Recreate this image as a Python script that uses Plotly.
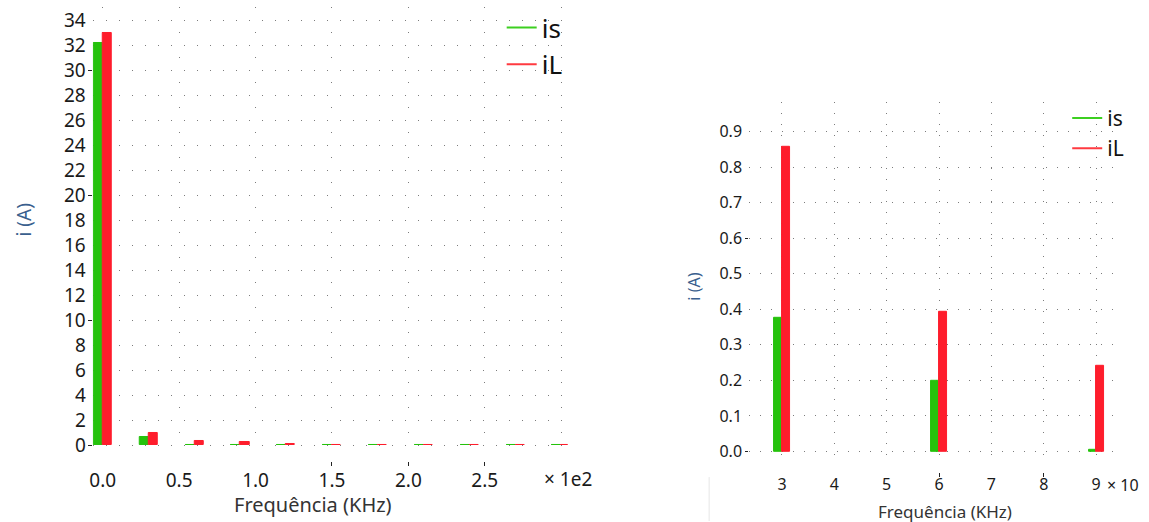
import plotly.graph_objects as go

# ---- spectrum data -------------------------------------------------------
# full spectrum (frequency axis in units of 1e2 KHz)
freq_full = [0.0, 0.3, 0.6, 0.9, 1.2, 1.5, 1.8, 2.1, 2.4, 2.7, 3.0]
is_full = [32.2, 0.62, 0.05, 0.05, 0.04, 0.04, 0.04, 0.04, 0.04, 0.04, 0.04]
il_full = [33.0, 0.95, 0.35, 0.24, 0.06, 0.05, 0.05, 0.05, 0.05, 0.05, 0.05]

# zoomed harmonics (frequency axis in units of 10 KHz)
freq_zoom = [3, 6, 9]
is_zoom = [0.376, 0.20, 0.005]
il_zoom = [0.856, 0.394, 0.242]

x_ticks_full = [0.0, 0.5, 1.0, 1.5, 2.0, 2.5, 3.0]
x_text_full = ["0.0", "0.5", "1.0", "1.5", "2.0", "2.5", ""]
y_ticks_full = list(range(0, 35, 2))
x_ticks_zoom = [3, 4, 5, 6, 7, 8, 9]
y_ticks_zoom = [round(0.1 * k, 1) for k in range(10)]
y_text_zoom = [f"{v:.1f}" for v in y_ticks_zoom]

GREEN = "#25c20c"
RED = "#fe1d2c"
LEG_GREEN = "#3ccf20"
LEG_RED = "#ff3a40"
GRID = "#7c7c7c"
FONT = "Noto Sans"

W, H = 1149, 522


def px(v):
    return v / W


def py(v):
    return 1 - v / H


fig = go.Figure()

# ---- bars -----------------------------------------------------------------
bw_full = 0.059
fig.add_trace(go.Bar(x=freq_full, y=is_full, width=bw_full, offset=-bw_full,
                     marker=dict(color=GREEN, line=dict(color=GREEN, width=1)),
                     showlegend=False, xaxis="x", yaxis="y"))
fig.add_trace(go.Bar(x=freq_full, y=il_full, width=bw_full, offset=0,
                     marker=dict(color=RED, line=dict(color=RED, width=1)),
                     showlegend=False, xaxis="x", yaxis="y"))

bw_zoom = 0.145
fig.add_trace(go.Bar(x=freq_zoom, y=is_zoom, width=bw_zoom, offset=-bw_zoom,
                     marker=dict(color=GREEN, line=dict(color=GREEN, width=1)),
                     showlegend=False, xaxis="x2", yaxis="y2"))
fig.add_trace(go.Bar(x=freq_zoom, y=il_zoom, width=bw_zoom, offset=0,
                     marker=dict(color=RED, line=dict(color=RED, width=1)),
                     showlegend=False, xaxis="x2", yaxis="y2"))

# ---- legend entries (line swatches) --------------------------------------
for name, col, leg, ax, ay, grp in [
    ("is", LEG_GREEN, "legend", "x", "y", "a"),
    ("iL", LEG_RED, "legend", "x", "y", "b"),
    ("is", LEG_GREEN, "legend2", "x2", "y2", "c"),
    ("iL", LEG_RED, "legend2", "x2", "y2", "d"),
]:
    fig.add_trace(go.Scatter(x=[None], y=[None], mode="lines", name=name,
                             line=dict(color=col, width=2), legend=leg,
                             legendgroup=grp, xaxis=ax, yaxis=ay))

# tick-mark-only axes need a trace to be drawn
fig.add_trace(go.Scatter(x=[None], y=[None], showlegend=False, xaxis="x3", yaxis="y3"))
fig.add_trace(go.Scatter(x=[None], y=[None], showlegend=False, xaxis="x4", yaxis="y4"))

# ---- axes -----------------------------------------------------------------
x_rng_full = [-(100 - 90) / 153.2, (566 - 100) / 153.2]
y_rng_full = [-(458 - 446) / 12.51, (446 - 7) / 12.51]
x_rng_zoom = [3 - (781 - 748) / 52.5, 3 + (1122 - 781) / 52.5]
y_rng_zoom = [-(464 - 452.3) / 356.0, (452.3 - 102) / 356.0]

common = dict(showline=False, zeroline=False, ticks="", color="#1a1a1a")

fig.update_layout(
    xaxis=dict(domain=[px(90), px(566)], range=x_rng_full, anchor="y",
               tickmode="array", tickvals=x_ticks_full, ticktext=x_text_full,
               showgrid=True, gridcolor=GRID, gridwidth=1, griddash="1px,24px",
               tickfont=dict(family=FONT, size=19, color="#1a1a1a"),
               ticklabelstandoff=10, **common),
    yaxis=dict(domain=[py(458), py(7)], range=y_rng_full, anchor="x",
               tickmode="array", tickvals=y_ticks_full,
               showgrid=True, gridcolor=GRID, gridwidth=1, griddash="1px,12px",
               tickfont=dict(family=FONT, size=19, color="#1a1a1a"),
               ticklabelstandoff=6, **common),
    xaxis2=dict(domain=[px(748), px(1122)], range=x_rng_zoom, anchor="y2",
                tickmode="array", tickvals=x_ticks_zoom,
                showgrid=True, gridcolor=GRID, gridwidth=1, griddash="1px,10px",
                tickfont=dict(family=FONT, size=16, color="#1a1a1a"),
                ticklabelstandoff=10, **common),
    yaxis2=dict(domain=[py(464), py(102)], range=y_rng_zoom, anchor="x2",
                tickmode="array", tickvals=y_ticks_zoom, ticktext=y_text_zoom,
                showgrid=True, gridcolor=GRID, gridwidth=1, griddash="1px,10px",
                tickfont=dict(family=FONT, size=16, color="#1a1a1a"),
                ticklabelstandoff=6, **common),
    # tick marks only
    xaxis3=dict(overlaying="x", anchor="free", position=py(462), range=x_rng_full,
                tickmode="array", tickvals=[1.5, 2.0, 2.5], ticks="outside",
                ticklen=4, tickcolor="#222", showticklabels=False,
                showgrid=False, zeroline=False, showline=False),
    yaxis3=dict(overlaying="y", anchor="free", position=px(89.5), range=y_rng_full,
                tickmode="array", tickvals=[0, 10, 20, 30], ticks="outside",
                ticklen=4, tickcolor="#222", showticklabels=False,
                showgrid=False, zeroline=False, showline=False),
    xaxis4=dict(overlaying="x2", anchor="free", position=py(473), range=x_rng_zoom,
                tickmode="array", tickvals=[6, 8], ticks="outside",
                ticklen=4, tickcolor="#222", showticklabels=False,
                showgrid=False, zeroline=False, showline=False),
    yaxis4=dict(overlaying="y2", anchor="free", position=px(747), range=y_rng_zoom,
                tickmode="array", tickvals=[0.0, 0.6], ticks="outside",
                ticklen=3, tickcolor="#222", showticklabels=False,
                showgrid=False, zeroline=False, showline=False),
)

fig.update_layout(
    width=W, height=H,
    margin=dict(l=0, r=0, t=0, b=0),
    paper_bgcolor="white", plot_bgcolor="white",
    barmode="overlay", bargap=0,
    font=dict(family=FONT, color="#1a1a1a"),
    legend=dict(x=px(500), y=py(4), xanchor="left", yanchor="top",
                bgcolor="rgba(0,0,0,0)", borderwidth=0, tracegroupgap=0,
                itemwidth=30, font=dict(family=FONT, size=26, color="#111")),
    legend2=dict(x=px(1067), y=py(98), xanchor="left", yanchor="top",
                 bgcolor="rgba(0,0,0,0)", borderwidth=0, tracegroupgap=0,
                 itemwidth=30, font=dict(family=FONT, size=21, color="#111")),
)

# ---- axis titles and scale multipliers -----------------------------------
ann = [
    dict(text="i (A)", x=px(21), y=py(220), textangle=-90,
         font=dict(family=FONT, size=19, color="#3a5f8e")),
    dict(text="Frequência (KHz)", x=px(311), y=py(505),
         font=dict(family=FONT, size=20, color="#333")),
    dict(text="× 1e2", x=px(566), y=py(480),
         font=dict(family=FONT, size=19, color="#1a1a1a")),
    dict(text="i (A)", x=px(693), y=py(287), textangle=-90,
         font=dict(family=FONT, size=16, color="#3a5f8e")),
    dict(text="Frequência (KHz)", x=px(944), y=py(512),
         font=dict(family=FONT, size=17, color="#333")),
    dict(text="× 10", x=px(1123), y=py(486),
         font=dict(family=FONT, size=16, color="#1a1a1a")),
]
for a in ann:
    fig.add_annotation(xref="paper", yref="paper", showarrow=False,
                       xanchor="center", yanchor="middle", **a)

# thin separator at the lower edge between the panels
fig.add_shape(type="line", xref="paper", yref="paper",
              x0=px(708), x1=px(708), y0=py(478), y1=py(522),
              line=dict(color="#e6e6e6", width=1))

fig.write_html("out.html")
